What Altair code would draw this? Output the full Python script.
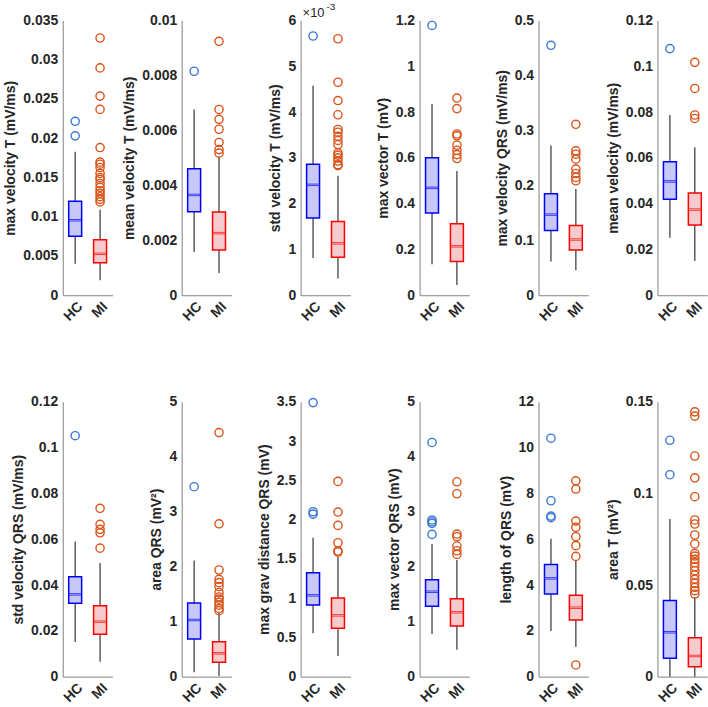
import altair as alt
import pandas as pd

groups = ["HC", "MI"]

titles = [
    "max velocity T (mV/ms)", "mean velocity T (mV/ms)", "std velocity T (mV/ms)",
    "max vector T (mV)", "max velocity QRS (mV/ms)", "mean velocity (mV/ms)",
    "std velocity QRS (mV/ms)", "area QRS (mV²)", "max grav distance QRS (mV)",
    "max vector QRS (mV)", "length of QRS (mV)", "area T (mV²)",
]

y_max = [0.035, 0.01, 6, 1.2, 0.5, 0.12, 0.12, 5, 3.5, 5, 12, 0.15]

y_ticks = [
    [0, 0.005, 0.01, 0.015, 0.02, 0.025, 0.03, 0.035],
    [0, 0.002, 0.004, 0.006, 0.008, 0.01],
    [0, 1, 2, 3, 4, 5, 6],
    [0, 0.2, 0.4, 0.6, 0.8, 1, 1.2],
    [0, 0.1, 0.2, 0.3, 0.4, 0.5],
    [0, 0.02, 0.04, 0.06, 0.08, 0.1, 0.12],
    [0, 0.02, 0.04, 0.06, 0.08, 0.1, 0.12],
    [0, 1, 2, 3, 4, 5],
    [0, 0.5, 1, 1.5, 2, 2.5, 3, 3.5],
    [0, 1, 2, 3, 4, 5],
    [0, 2, 4, 6, 8, 10, 12],
    [0, 0.05, 0.1, 0.15],
]

# [whisker low, q1, median, q3, whisker high]
hc_stats = [
    [0.00402, 0.00752, 0.00955, 0.01196, 0.01826],
    [0.00157, 0.00304, 0.00365, 0.0046, 0.00676],
    [0.813, 1.685, 2.41, 2.86, 4.575],
    [0.135, 0.359, 0.469, 0.60, 0.835],
    [0.0616, 0.118, 0.1467, 0.1848, 0.2723],
    [0.0251, 0.0419, 0.0497, 0.0583, 0.0787],
    [0.0151, 0.032, 0.0359, 0.0436, 0.059],
    [0.079, 0.685, 1.03, 1.34, 2.115],
    [0.552, 0.912, 1.035, 1.324, 1.769],
    [0.776, 1.279, 1.545, 1.764, 2.412],
    [1.993, 3.607, 4.29, 4.90, 6.02],
    [0.0, 0.010, 0.0242, 0.0416, 0.086],
]

mi_stats = [
    [0.0019, 0.00414, 0.00528, 0.00706, 0.0109],
    [0.00081, 0.00165, 0.00226, 0.00303, 0.00505],
    [0.363, 0.828, 1.133, 1.612, 2.607],
    [0.045, 0.147, 0.2135, 0.312, 0.543],
    [0.0453, 0.0821, 0.1014, 0.1268, 0.1932],
    [0.0149, 0.0307, 0.0374, 0.0446, 0.0646],
    [0.00655, 0.0185, 0.024, 0.031, 0.0496],
    [0.012, 0.26, 0.424, 0.636, 1.18],
    [0.263, 0.615, 0.78, 1.001, 1.523],
    [0.491, 0.921, 1.17, 1.418, 2.121],
    [1.309, 2.473, 3.01, 3.549, 5.09],
    [0.0, 0.00545, 0.01127, 0.02127, 0.0435],
]

hc_outliers = [
    [0.0203, 0.02215],
    [0.00815],
    [5.66],
    [1.178],
    [0.4547],
    [0.1077],
    [0.1052],
    [3.455],
    [2.07, 2.10, 3.49],
    [2.588, 2.788, 2.818, 2.85, 4.26],
    [6.94, 7.01, 7.68, 10.41],
    [0.1102, 0.129],
]

mi_outliers = [
    [0.01188, 0.01221, 0.01255, 0.01298, 0.01331, 0.01374, 0.01424, 0.01475,
     0.0150, 0.01551, 0.01627, 0.01669, 0.01695, 0.01881, 0.02367, 0.02536,
     0.02895, 0.03276],
    [0.00517, 0.0053, 0.00556, 0.00604, 0.0064, 0.00676, 0.00924],
    [2.83, 2.85, 2.93, 3.00, 3.06, 3.11, 3.29, 3.38, 3.47, 3.56, 3.62, 3.94,
     4.25, 4.65, 5.60],
    [0.597, 0.614, 0.633, 0.655, 0.696, 0.704, 0.815, 0.861],
    [0.2083, 0.2144, 0.2216, 0.2295, 0.2476, 0.2566, 0.2627, 0.311],
    [0.0772, 0.0787, 0.0903, 0.1017],
    [0.0561, 0.0628, 0.0643, 0.0665, 0.0735],
    [1.20, 1.24, 1.30, 1.35, 1.41, 1.45, 1.53, 1.64, 1.71, 1.77, 1.94, 2.78, 4.44],
    [1.587, 1.60, 1.705, 1.926, 2.096, 2.486],
    [2.224, 2.29, 2.376, 2.545, 2.594, 3.327, 3.545],
    [0.509, 5.25, 5.72, 6.11, 6.52, 6.79, 8.19, 8.55],
    [0.0451, 0.0469, 0.0487, 0.0509, 0.0531, 0.0555, 0.0578, 0.060, 0.0622,
     0.064, 0.0658, 0.0673, 0.0724, 0.0773, 0.0833, 0.0855, 0.0982, 0.1085,
     0.1204, 0.1422, 0.1445],
]

FONT = "Liberation Sans"
TXT = "#262626"
box_stroke = ["#0000FF", "#FF0000"]
box_fill = ["#C8C8F8", "#F4CACD"]
out_color = ["#3A78D4", "#D95319"]

PW, PH = 50, 276


def panel(i):
    stats = pd.DataFrame({
        "group": groups,
        "lo": [hc_stats[i][0], mi_stats[i][0]],
        "q1": [hc_stats[i][1], mi_stats[i][1]],
        "med": [hc_stats[i][2], mi_stats[i][2]],
        "q3": [hc_stats[i][3], mi_stats[i][3]],
        "hi": [hc_stats[i][4], mi_stats[i][4]],
    })
    outl = pd.DataFrame({
        "group": ["HC"] * len(hc_outliers[i]) + ["MI"] * len(mi_outliers[i]),
        "v": hc_outliers[i] + mi_outliers[i],
    })
    x = alt.X("group:N", title=None,
              scale=alt.Scale(type="point", domain=groups, padding=0.5),
              axis=alt.Axis(labelAngle=-45, labelPadding=4, ticks=False))
    ysc = alt.Scale(domain=[0, y_max[i]], nice=False, zero=True)

    def Y(field):
        return alt.Y(field, scale=ysc, title=titles[i],
                     axis=alt.Axis(values=y_ticks[i], format=".3~g", ticks=False,
                                   labelOverlap=False, labelFlush=False,
                                   labelPadding=5, titlePadding=5))

    whisk = alt.Chart(stats).mark_rule(color="#333333", strokeWidth=1.2).encode(
        x=x, y=Y("lo:Q"), y2="hi:Q")
    box = alt.Chart(stats).mark_bar(width=13, strokeWidth=1.5).encode(
        x=x, y=Y("q1:Q"), y2="q3:Q",
        fill=alt.Fill("group:N", scale=alt.Scale(domain=groups, range=box_fill), legend=None),
        stroke=alt.Stroke("group:N", scale=alt.Scale(domain=groups, range=box_stroke), legend=None))
    med = alt.Chart(stats).mark_tick(size=13, thickness=1.5).encode(
        x=x, y=Y("med:Q"),
        stroke=alt.Stroke("group:N", scale=alt.Scale(domain=groups, range=box_stroke), legend=None),
        fill=alt.Fill("group:N", scale=alt.Scale(domain=groups, range=box_stroke), legend=None))
    pts = alt.Chart(outl).mark_point(shape="circle", filled=False, size=68, strokeWidth=1.4,
                                     opacity=1).encode(
        x=x, y=Y("v:Q"),
        color=alt.Color("group:N", scale=alt.Scale(domain=groups, range=out_color), legend=None))
    layers = [whisk, box, med, pts]
    if i == 2:
        t1 = alt.Chart(pd.DataFrame({"t": ["×10"]})).mark_text(
            align="left", baseline="alphabetic", fontSize=13, font=FONT, color=TXT).encode(
            text="t:N", x=alt.value(2), y=alt.value(-3))
        t2 = alt.Chart(pd.DataFrame({"t": ["-3"]})).mark_text(
            align="left", baseline="alphabetic", fontSize=10, font=FONT, color=TXT).encode(
            text="t:N", x=alt.value(26), y=alt.value(-10))
        layers += [t1, t2]
    return alt.layer(*layers).properties(width=PW, height=PH)


chart = alt.concat(*[panel(i) for i in range(12)], columns=6,
                   spacing={"row": 107, "column": 69.45}, bounds="flush").properties(
    padding={"left": 3, "top": 1, "right": 0, "bottom": 0}
).configure_view(stroke=None).configure_axis(
    grid=False, domainColor="#808080", domainWidth=1,
    labelFont=FONT, labelFontSize=14, labelFontWeight="bold", labelColor=TXT,
    titleFont=FONT, titleFontSize=14, titleFontWeight="bold", titleColor=TXT,
)

chart.save("out.html", embed_options={"renderer": "svg", "actions": False})
